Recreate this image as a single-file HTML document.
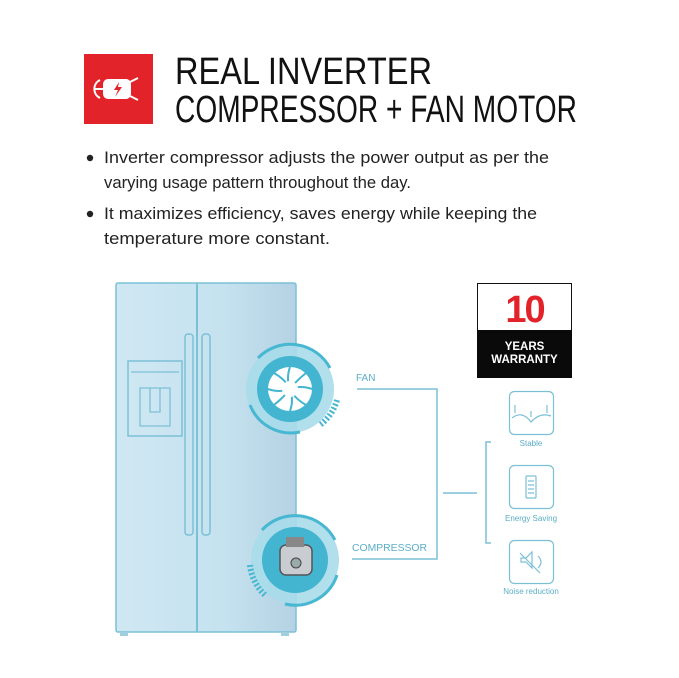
<!DOCTYPE html>
<html><head><style>
html,body{margin:0;padding:0;background:#fff;width:679px;height:678px;overflow:hidden}
svg{display:block}
text{font-family:"Liberation Sans",sans-serif}
</style></head><body>
<svg width="679" height="678" viewBox="0 0 679 678" xmlns="http://www.w3.org/2000/svg">
<defs>
<linearGradient id="door" x1="0" x2="1" y1="0" y2="0">
<stop offset="0" stop-color="#cfe8f3"/><stop offset="0.6" stop-color="#c5e2ef"/><stop offset="1" stop-color="#b4d2e3"/>
</linearGradient>
</defs>
<!-- header -->
<rect x="84" y="54" width="69" height="70" fill="#e3232a"/>
<g stroke="#fff" stroke-width="2" fill="none">
<rect x="104" y="80" width="26" height="18" rx="4" fill="#fff"/>
<path d="M100 80 A10 10 0 0 0 100 98"/>
<path d="M130 82 L138 78 M130 96 L138 100"/>
<line x1="94" y1="89" x2="104" y2="89"/>
</g>
<path d="M119 82 L114 90 L118 90 L115 97 L122 87 L118 87 Z" fill="#e3232a"/>
<text x="175" y="84" font-size="38" textLength="257" lengthAdjust="spacingAndGlyphs" fill="#111">REAL INVERTER</text>
<text x="175" y="122" font-size="38" textLength="402" lengthAdjust="spacingAndGlyphs" fill="#111">COMPRESSOR + FAN MOTOR</text>
<g fill="#222" font-size="17">
<circle cx="90" cy="158" r="3.2"/>
<circle cx="90" cy="214" r="3.2"/>
<text x="104" y="163" textLength="445" lengthAdjust="spacingAndGlyphs">Inverter compressor adjusts the power output as per the</text>
<text x="104" y="188" textLength="307" lengthAdjust="spacingAndGlyphs">varying usage pattern throughout the day.</text>
<text x="104" y="219" textLength="433" lengthAdjust="spacingAndGlyphs">It maximizes efficiency, saves energy while keeping the</text>
<text x="104" y="244" textLength="226" lengthAdjust="spacingAndGlyphs">temperature more constant.</text>
</g>
<!-- fridge -->
<rect x="116" y="283" width="180" height="349" rx="2" fill="url(#door)" stroke="#7cc0d6" stroke-width="1.5"/>
<line x1="197" y1="283" x2="197" y2="632" stroke="#7cc0d6" stroke-width="2"/>
<rect x="185" y="334" width="8" height="201" rx="3" fill="none" stroke="#7cc0d6" stroke-width="1.5"/>
<rect x="202" y="334" width="8" height="201" rx="3" fill="none" stroke="#7cc0d6" stroke-width="1.5"/>
<rect x="128" y="361" width="54" height="75" fill="none" stroke="#7cc0d6" stroke-width="1.5"/>
<path d="M131 372 H179 M140 388 h30 v38 h-30 z M150 388 v24 h10 v-24" fill="none" stroke="#7cc0d6" stroke-width="1.3"/>
<rect x="120" y="632" width="8" height="4" fill="#9fcfdf"/>
<rect x="281" y="632" width="8" height="4" fill="#9fcfdf"/>
<!-- fan circle -->
<circle cx="290" cy="389" r="44" fill="#a9dcea" opacity="0.9"/>
<path d="M258 358 A45 45 0 0 1 330 368" fill="none" stroke="#48b7d1" stroke-width="3"/>
<path d="M337 400 A47 47 0 0 1 320 425" fill="none" stroke="#48b7d1" stroke-width="6" stroke-dasharray="2 2"/>
<path d="M250 405 A44 44 0 0 0 300 432" fill="none" stroke="#48b7d1" stroke-width="3"/>
<circle cx="290" cy="389" r="33" fill="#43b5d0"/>
<circle cx="290" cy="389" r="22" fill="#fff"/>
<g stroke="#43b5d0" stroke-width="2" fill="none">
<path d="M290 367 Q286 378 290 389 M312 389 Q301 385 290 389 M290 411 Q294 400 290 389 M268 389 Q279 393 290 389 M274 373 Q286 380 290 389 M306 373 Q296 381 290 389 M306 405 Q294 398 290 389 M274 405 Q284 397 290 389"/>
</g>
<circle cx="290" cy="389" r="8" fill="#fff"/>
<!-- compressor circle -->
<circle cx="295" cy="560" r="44" fill="#a9dcea" opacity="0.9"/>
<path d="M262 530 A45 45 0 0 1 335 540" fill="none" stroke="#48b7d1" stroke-width="3"/>
<path d="M250 565 A47 47 0 0 0 265 595" fill="none" stroke="#48b7d1" stroke-width="6" stroke-dasharray="2 2"/>
<path d="M285 604 A44 44 0 0 0 337 575" fill="none" stroke="#48b7d1" stroke-width="3"/>
<circle cx="295" cy="560" r="33" fill="#43b5d0"/>
<rect x="280" y="545" width="32" height="30" rx="6" fill="#c9ccd0" stroke="#555" stroke-width="1.5"/>
<rect x="286" y="537" width="18" height="10" fill="#888"/>
<circle cx="296" cy="563" r="5" fill="#9aa" stroke="#444"/>
<!-- connectors -->
<g stroke="#7cc0d6" stroke-width="1.5" fill="none">
<path d="M357 389 H437 V559 H352"/>
<line x1="443" y1="493" x2="477" y2="493"/>
<path d="M491 442 H486 V543 H491"/>
</g>
<text x="356" y="381" font-size="10" fill="#5aaec8">FAN</text>
<text x="352" y="551" font-size="10.5" fill="#5aaec8" textLength="75" lengthAdjust="spacingAndGlyphs">COMPRESSOR</text>
<!-- warranty -->
<rect x="477.5" y="283.5" width="94" height="94" fill="#fff" stroke="#111"/>
<rect x="477" y="330" width="95" height="48" fill="#0a0a0a"/>
<text x="524.5" y="322" font-size="38" font-weight="bold" fill="#e3232a" text-anchor="middle" letter-spacing="-2">10</text>
<text x="524.5" y="350" font-size="11.5" font-weight="bold" fill="#fff" text-anchor="middle">YEARS</text>
<text x="524.5" y="363" font-size="11.5" font-weight="bold" fill="#fff" text-anchor="middle">WARRANTY</text>
<!-- icon boxes -->
<g fill="none" stroke="#7cc0d6" stroke-width="1.2">
<rect x="509.5" y="391.5" width="44" height="43" rx="5"/>
<rect x="509.5" y="465.5" width="44" height="43" rx="5"/>
<rect x="509.5" y="540.5" width="44" height="43" rx="5"/>
<path d="M512 418 Q522 410 531 422 Q540 412 551 416"/>
<path d="M515 405 v8 M531 411 v6 M547 405 v8"/>
<rect x="526" y="476" width="10" height="22" rx="1"/>
<path d="M528 481 h6 M528 485 h6 M528 489 h6 M528 493 h6"/>
<path d="M521 558 h5 l6 -6 v16 l-6 -6 h-5 z M538 556 q6 6 0 12 M520 553 l20 20"/>
</g>
<g font-size="8" fill="#5aaec8" text-anchor="middle">
<text x="531" y="446">Stable</text>
<text x="531" y="521">Energy Saving</text>
<text x="531" y="594">Noise reduction</text>
</g>
</svg>
</body></html>
